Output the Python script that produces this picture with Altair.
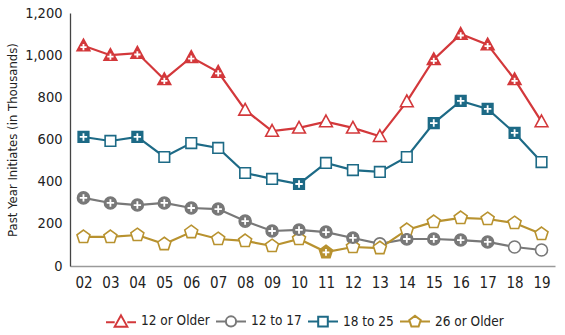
import altair as alt
import pandas as pd

years = ["02", "03", "04", "05", "06", "07", "08", "09", "10", "11",
         "12", "13", "14", "15", "16", "17", "18", "19"]
series_names = ["12 or Older", "12 to 17", "18 to 25", "26 or Older"]
colors = ["#d3383b", "#787878", "#1d6a86", "#b8922f"]

older12 = [1045, 1000, 1010, 885, 990, 920, 740, 640, 655, 685, 655, 615, 780, 980, 1100, 1050, 885, 685]
age12_17 = [323, 299, 289, 299, 275, 270, 213, 166, 171, 161, 133, 105, 128, 128, 123, 114, 90, 76]
age18_25 = [612, 593, 612, 517, 583, 560, 441, 413, 389, 489, 455, 446, 517, 678, 783, 745, 631, 493]
older26 = [138, 138, 147, 104, 161, 128, 119, 95, 128, 66, 90, 85, 171, 209, 228, 223, 204, 152]

# 1 = significantly different from 2019 (filled marker with plus)
sig_older12 = [1, 1, 1, 1, 1, 1, 0, 0, 0, 0, 0, 0, 0, 1, 1, 1, 1, 0]
sig_12_17 = [1, 1, 1, 1, 1, 1, 1, 1, 1, 1, 1, 0, 1, 1, 1, 1, 0, 0]
sig_18_25 = [1, 0, 1, 0, 0, 0, 0, 0, 1, 0, 0, 0, 0, 1, 1, 1, 1, 0]
sig_older26 = [0, 0, 0, 0, 0, 0, 0, 0, 0, 1, 0, 0, 0, 0, 0, 0, 0, 0]

rows = []
for name, vals, sig in zip(series_names,
                           [older12, age12_17, age18_25, older26],
                           [sig_older12, sig_12_17, sig_18_25, sig_older26]):
    for yr, v, s in zip(years, vals, sig):
        rows.append({"year": yr, "value": v, "series": name, "sig": s})
df = pd.DataFrame(rows)

# marker shapes (custom paths)
tri = "M0,-1.15L1.12,0.9L-1.12,0.9Z"
circ = "M1.05,0A1.05,1.05 0 1,1 -1.05,0A1.05,1.05 0 1,1 1.05,0Z"
sq = "M-0.93,-0.93H0.93V0.93H-0.93Z"
pent = "M0,-1.2L1.14,-0.37L0.71,0.97L-0.71,0.97L-1.14,-0.37Z"
marker_paths = [tri, circ, sq, pent]

plus_tri = "M-0.55,0.25H0.55M0,-0.3V0.8"
plus_c = "M-0.65,0H0.65M0,-0.65V0.65"
plus_pent = "M-0.6,0.05H0.6M0,-0.55V0.65"
plus_paths = [plus_tri, plus_c, plus_c, plus_pent]

# legend symbols: dash - shape - dash (unit = 15 px)
lg_tri = "M-1,0.05H-0.42M0.42,0.05H1M0,-0.4L0.42,0.35L-0.42,0.35Z"
lg_circ = "M-1,0H-0.34M0.34,0H1M0.34,0A0.34,0.34 0 1,1 -0.34,0A0.34,0.34 0 1,1 0.34,0Z"
lg_sq = "M-1,0H-0.32M0.32,0H1M-0.32,-0.32H0.32V0.32H-0.32Z"
lg_pent = "M-1,0H-0.38M0.38,0H1M0,-0.38L0.38,-0.1L0.24,0.33L-0.24,0.33L-0.38,-0.1Z"
legend_paths = [lg_tri, lg_circ, lg_sq, lg_pent]

FONT = "DejaVu Sans Condensed, Liberation Sans, sans-serif"

x_enc = alt.X("year:O", scale=alt.Scale(paddingOuter=0.48),
              axis=alt.Axis(title=None, ticks=False, labelAngle=0, labelPadding=9,
                            labelFontSize=15, labelColor="#222", domainColor="#9a9a9a",
                            domainWidth=1.5, grid=False))
y_enc = alt.Y("value:Q", scale=alt.Scale(domain=[0, 1200], nice=False),
              axis=alt.Axis(title="Past Year Initiates (in Thousands)", values=[0, 200, 400, 600, 800, 1000, 1200],
                            format=",d", ticks=False, labelPadding=8, labelFontSize=14.5,
                            labelColor="#222", titleFontSize=13, titleFontWeight="normal",
                            titleColor="#222", titlePadding=5, domainColor="#444",
                            domainWidth=1.3, grid=False))

def col(legend=None):
    return alt.Color("series:N", scale=alt.Scale(domain=series_names, range=colors), legend=legend)

base = alt.Chart(df)

lines = base.mark_line(strokeWidth=2.2).encode(x=x_enc, y=y_enc, color=col(), detail="series:N")

open_pts = base.mark_point(filled=False, fill="white", fillOpacity=1, opacity=1, size=130,
                           strokeWidth=1.6).encode(
    x=x_enc, y=y_enc, color=col(),
    shape=alt.Shape("series:N", scale=alt.Scale(domain=series_names, range=marker_paths), legend=None))

filled_pts = base.transform_filter("datum.sig == 1").mark_point(
    filled=True, opacity=1, size=130).encode(
    x=x_enc, y=y_enc, color=col(),
    shape=alt.Shape("series:N", scale=alt.Scale(domain=series_names, range=marker_paths), legend=None))

plus = base.transform_filter("datum.sig == 1").mark_point(
    filled=False, opacity=1, size=130, strokeWidth=1.8, color="white").encode(
    x=x_enc, y=y_enc,
    shape=alt.Shape("series:N", scale=alt.Scale(domain=series_names, range=plus_paths), legend=None))

legend_def = alt.Legend(title=None, orient="none", direction="horizontal", legendX=35, legendY=292,
                        symbolSize=900, symbolStrokeWidth=2, symbolOpacity=1, labelFontSize=13.5,
                        labelColor="#222", labelOffset=4, columnPadding=2, padding=0,
                        symbolFillColor="white")

leg = base.mark_point(filled=False, opacity=0, size=900, strokeWidth=2).encode(
    x=x_enc, y=y_enc, color=col(legend_def),
    shape=alt.Shape("series:N", scale=alt.Scale(domain=series_names, range=legend_paths),
                    legend=legend_def))

chart = alt.layer(lines, open_pts, filled_pts, plus, leg).resolve_scale(
    shape="independent", color="independent"
).properties(
    width=485, height=253,
    autosize=alt.AutoSizeParams(type="none"),
    padding={"left": 70, "top": 13, "right": 10, "bottom": 69},
).configure(font=FONT).configure_view(stroke=None)

chart.save("out.html", embed_options={"renderer": "svg", "actions": False})
